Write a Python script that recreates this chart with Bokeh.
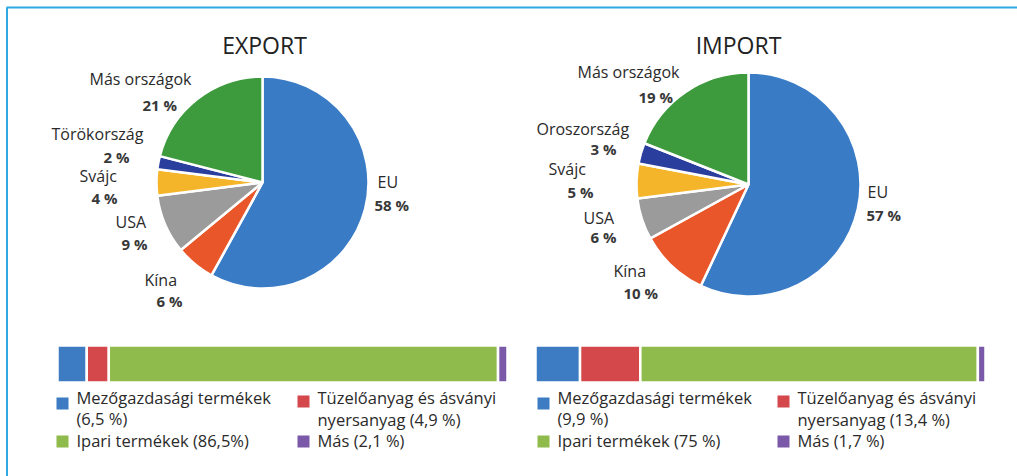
import math
from bokeh.plotting import figure
from bokeh.models import ColumnDataSource, Range1d
from bokeh.core.properties import value
from bokeh.embed import file_html
from bokeh.resources import INLINE

# ---------------- data ----------------
countries_exp = ["EU", "Kína", "USA", "Svájc", "Törökország", "Más országok"]
share_exp = [58, 6, 9, 4, 2, 21]
countries_imp = ["EU", "Kína", "USA", "Svájc", "Oroszország", "Más országok"]
share_imp = [57, 10, 6, 5, 3, 19]

goods = ["Mezőgazdasági termékek", "Tüzelőanyag és ásványi nyersanyag",
         "Ipari termékek", "Más"]
goods_exp = [6.5, 4.9, 86.5, 2.1]
goods_imp = [9.9, 13.4, 75.0, 1.7]
legend_exp = [["Mezőgazdasági termékek", "(6,5 %)"],
              ["Tüzelőanyag és ásványi", "nyersanyag (4,9 %)"],
              ["Ipari termékek (86,5%)"],
              ["Más (2,1 %)"]]
legend_imp = [["Mezőgazdasági termékek", "(9,9 %)"],
              ["Tüzelőanyag és ásványi", "nyersanyag (13,4 %)"],
              ["Ipari termékek (75 %)"],
              ["Más (1,7 %)"]]
titles = ["EXPORT", "IMPORT"]

# ---------------- styles / layout ----------------
pie_colors = ["#3a7bc6", "#e8562a", "#9b9b9b", "#f4b52b", "#2a3e9e", "#3d9b3d"]
bar_colors = ["#3d7cc2", "#d4474b", "#8fba4c", "#7a5aa8"]
W, H = 1017, 476


def X(px):
    return px


def Y(py):
    return H - py


p = figure(width=W, height=H, output_backend="svg", toolbar_location=None,
           x_range=Range1d(0, W), y_range=Range1d(0, H), min_border=0)
p.axis.visible = False
p.grid.visible = False
p.outline_line_color = None
p.background_fill_color = "white"
p.border_fill_color = "white"

# frame border (top + left)
p.line(x=[X(6), X(1017)], y=[Y(7), Y(7)], line_color="#2fa9e1", line_width=2)
p.line(x=[X(6.5), X(6.5)], y=[Y(7), Y(476)], line_color="#2fa9e1", line_width=2)

FONT = value("Open Sans")


def pie(shares, cx, cy, r):
    total = float(sum(shares))
    starts, ends = [], []
    cum = 0.0
    for s in shares:
        a0 = math.pi / 2 - 2 * math.pi * cum / total
        cum += s
        a1 = math.pi / 2 - 2 * math.pi * cum / total
        starts.append(a1)
        ends.append(a0)
    src = ColumnDataSource(dict(x=[X(cx)] * len(shares), y=[Y(cy)] * len(shares),
                                start=starts, end=ends, color=pie_colors))
    p.wedge(x="x", y="y", radius=r, start_angle="start", end_angle="end",
            fill_color="color", line_color="white", line_width=2.5, source=src)


pie(share_exp, 262, 182, 106)
pie(share_imp, 748, 184, 112)

# titles
p.text(x=[X(264), X(738)], y=[Y(44), Y(44)], text=titles, text_align="center",
       text_baseline="middle", text_font=FONT, text_font_size="23px",
       text_color="#222222")

# pie labels: (name x, name y, pct x, pct y) in page pixels
lab_exp = [(377, 181, 374, 204), (144, 279, 156, 300), (115, 221, 121, 243),
           (79, 175, 91, 197), (51, 133, 103, 156), (89, 78, 142, 104)]
lab_imp = [(867, 191, 866, 214), (613, 270, 623, 292), (583, 217, 590, 236),
           (548, 168, 567, 191), (536, 128, 590, 148), (577, 71, 638, 96)]

for names, shares, labs in [(countries_exp, share_exp, lab_exp),
                            (countries_imp, share_imp, lab_imp)]:
    p.text(x=[X(l[0]) for l in labs], y=[Y(l[1]) for l in labs], text=names,
           text_align="left", text_baseline="middle", text_font=FONT,
           text_font_size="16px", text_color="#2a2a2a")
    p.text(x=[X(l[2]) for l in labs], y=[Y(l[3]) for l in labs],
           text=[f"{s} %" for s in shares], text_align="left",
           text_baseline="middle", text_font=FONT, text_font_size="15px",
           text_font_style="bold", text_color="#383838")


# stacked bars
def bar(vals, x0, x1, ytop, ybot):
    total = float(sum(vals))
    span = x1 - x0
    lefts, rights = [], []
    cum = 0.0
    for v in vals:
        lefts.append(X(x0 + span * cum / total))
        cum += v
        rights.append(X(x0 + span * cum / total))
    src = ColumnDataSource(dict(l=lefts, r=rights, color=bar_colors))
    p.hbar(y=(Y(ytop) + Y(ybot)) / 2, height=Y(ytop) - Y(ybot), left="l",
           right="r", fill_color="color", line_color="white", line_width=2.5,
           source=src)


bar(goods_exp, 57, 507, 345, 382)
bar(goods_imp, 535, 985, 345, 382)


# legends
def legend(entries, col_x, sq_offset):
    # order: agri (col0,row0), fuel (col1,row0), industrial (col0,row1), other (col1,row1)
    sq_pos = [(col_x[0], 403), (col_x[1], 401), (col_x[0], 441), (col_x[1], 441)]
    txt_rows = [(col_x[0] + sq_offset, [397, 418]), (col_x[1] + sq_offset, [397, 419]),
                (col_x[0] + sq_offset, [440]), (col_x[1] + sq_offset, [440])]
    p.rect(x=[X(s[0] + 6) for s in sq_pos], y=[Y(s[1]) for s in sq_pos],
           width=12, height=12, fill_color=bar_colors, line_color=None)
    xs, ys, ts = [], [], []
    for (tx, tys), lines in zip(txt_rows, entries):
        for ty, line in zip(tys, lines):
            xs.append(X(tx))
            ys.append(Y(ty))
            ts.append(line)
    p.text(x=xs, y=ys, text=ts, text_align="left", text_baseline="middle",
           text_font=FONT, text_font_size="16.5px", text_color="#2a2a2a")


legend(legend_exp, (56, 297), 20)
legend(legend_imp, (537, 777), 20)

open("out.html", "w").write(file_html(p, INLINE))
